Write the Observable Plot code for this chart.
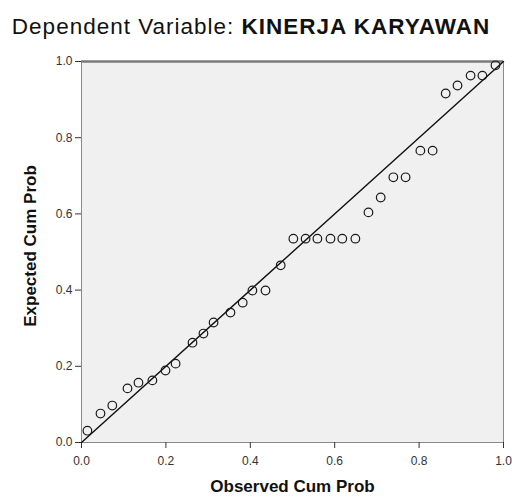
<!DOCTYPE html>
<html><head><meta charset="utf-8">
<script src="https://cdn.jsdelivr.net/npm/d3@7"></script>
<script src="https://cdn.jsdelivr.net/npm/@observablehq/plot@0.6"></script>
<style>
body{margin:0;background:#fff;}
#title{width:512px;height:44px;box-sizing:border-box;padding-top:14px;padding-right:10px;font-family:"Liberation Sans",Arial,sans-serif;font-size:22.5px;letter-spacing:1px;line-height:26px;text-align:center;color:#111;white-space:nowrap;}
#title b{font-weight:bold;}
svg{display:block;}
</style></head>
<body>
<div id="title">Dependent Variable: <b>KINERJA KARYAWAN</b></div>
<div id="chart"></div>
<script>
const observed = [0.014,0.045,0.073,0.109,0.135,0.168,0.199,0.223,0.263,0.289,0.313,0.353,0.382,0.405,0.436,0.472,0.502,0.531,0.559,0.590,0.618,0.649,0.680,0.709,0.739,0.768,0.803,0.832,0.863,0.891,0.922,0.950,0.981];
const expected = [0.031,0.076,0.097,0.142,0.157,0.163,0.189,0.207,0.262,0.286,0.315,0.341,0.367,0.399,0.399,0.465,0.535,0.535,0.535,0.535,0.535,0.535,0.604,0.643,0.696,0.696,0.766,0.766,0.916,0.937,0.963,0.963,0.990];
const ticks = [0, 0.2, 0.4, 0.6, 0.8, 1.0];
const xTitle = "Observed Cum Prob";
const yTitle = "Expected Cum Prob";
const refLine = [0, 1];

const pts = observed.map((o, i) => ({x: o, y: expected[i]}));
const font = '"Liberation Sans", Arial, sans-serif';

const chart = Plot.plot({
  width: 512,
  height: 459,
  marginTop: 17,
  marginBottom: 61,
  marginLeft: 81,
  marginRight: 9,
  style: {fontFamily: font, background: "#fff"},
  x: {domain: [0, 1]},
  y: {domain: [0, 1]},
  marks: [
    Plot.frame({fill: "#f0f0f0", stroke: "#8a8a8a", strokeWidth: 1}),
    Plot.ruleY([1], {stroke: "#7a7a7a", strokeWidth: 2.5}),
    Plot.axisX({ticks, tickSize: 6, tickPadding: 8, tickFormat: d3.format(".1f"), fontSize: 12, color: "#333", label: null}),
    Plot.axisY({ticks, tickSize: 6, tickPadding: 3, tickFormat: d3.format(".1f"), fontSize: 12, color: "#333", label: null}),
    Plot.line(refLine.map(v => ({x: v, y: v})), {x: "x", y: "y", stroke: "#111", strokeWidth: 1.4}),
    Plot.dot(pts, {x: "x", y: "y", r: 4.3, stroke: "#1a1a1a", strokeWidth: 1.2, fill: "none"}),
    Plot.text([xTitle], {frameAnchor: "bottom", dy: 49, fontSize: 17, fontWeight: "bold", fill: "#111", text: d => d}),
    Plot.text([yTitle], {frameAnchor: "left", textAnchor: "middle", dx: -51, dy: -6, rotate: -90, fontSize: 17, fontWeight: "bold", fill: "#111", text: d => d})
  ]
});
document.getElementById("chart").appendChild(chart);
</script>
</body></html>
